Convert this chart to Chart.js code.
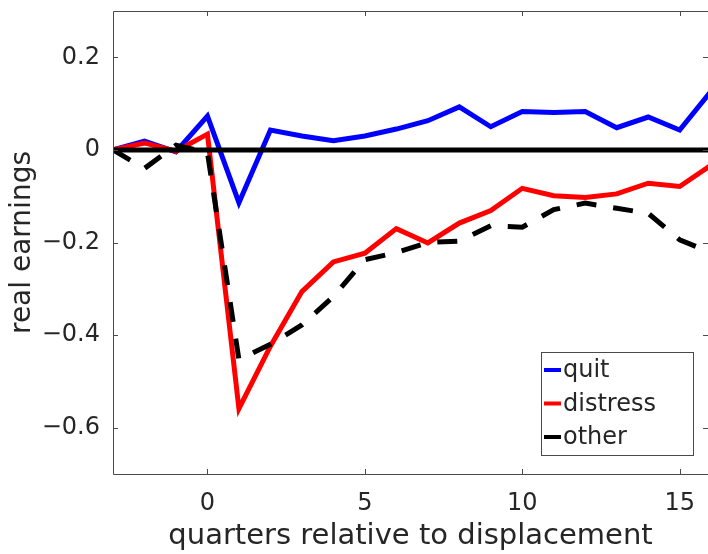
<!DOCTYPE html>
<html>
<head>
<meta charset="utf-8">
<script src="https://cdn.jsdelivr.net/npm/chart.js@4"></script>
<style>
	html, body { margin: 0; padding: 0; background: #fff; overflow: hidden; }
</style>
</head>
<body>
<canvas id="myChart" width="708" height="554"></canvas>
<script>
const quarters = [-3, -2, -1, 0, 1, 2, 3, 4, 5, 6, 7, 8, 9, 10, 11, 12, 13, 14, 15, 16];
const quit = [0, 0.019, -0.004, 0.073, -0.114, 0.043, 0.030, 0.020, 0.030, 0.045, 0.063, 0.093, 0.050, 0.083, 0.081, 0.083, 0.048, 0.071, 0.043, 0.127];
const distress = [0, 0.015, -0.003, 0.034, -0.559, -0.424, -0.306, -0.242, -0.223, -0.170, -0.201, -0.158, -0.131, -0.083, -0.099, -0.103, -0.095, -0.072, -0.079, -0.033];
const other = [0, -0.040, 0.010, -0.006, -0.453, -0.420, -0.378, -0.317, -0.237, -0.222, -0.200, -0.197, -0.164, -0.167, -0.129, -0.115, -0.126, -0.137, -0.194, -0.222];
const xTicks = [0, 5, 10, 15];
const yTicks = [-0.6, -0.4, -0.2, 0, 0.2];

const textColor = '#262626';
const axisColor = '#4a4a4a';
const fontFamily = "'DejaVu Sans'";

const toPoints = (vals) => quarters.map((q, i) => ({ x: q, y: vals[i] }));

// box round the plot with inward ticks on all four sides
const axisBox = {
	id: 'axisBox',
	afterDraw(chart) {
		const { ctx, chartArea: a, scales } = chart;
		const len = 5;
		ctx.save();
		ctx.strokeStyle = axisColor;
		ctx.lineWidth = 1;
		ctx.beginPath();
		ctx.rect(a.left + 0.5, a.top + 0.5, a.right - a.left, a.bottom - a.top);
		xTicks.forEach((t) => {
			const px = Math.round(scales.x.getPixelForValue(t)) + 0.5;
			ctx.moveTo(px, a.bottom); ctx.lineTo(px, a.bottom - len);
			ctx.moveTo(px, a.top); ctx.lineTo(px, a.top + len);
		});
		yTicks.forEach((t) => {
			const py = Math.round(scales.y.getPixelForValue(t)) + 0.5;
			ctx.moveTo(a.left, py); ctx.lineTo(a.left + len, py);
			ctx.moveTo(a.right, py); ctx.lineTo(a.right - len, py);
		});
		ctx.stroke();
		ctx.restore();
	},
};

// legend box inside the lower right of the plot
const boxLegend = {
	id: 'boxLegend',
	afterDatasetsDraw(chart) {
		const { ctx } = chart;
		const items = chart.data.datasets.filter((d) => d.label);
		const left = 541, top = 352, w = 152, h = 103, rowH = 33.5;
		ctx.save();
		ctx.fillStyle = '#fff';
		ctx.fillRect(left, top, w, h);
		ctx.strokeStyle = axisColor;
		ctx.lineWidth = 1;
		ctx.strokeRect(left + 0.5, top + 0.5, w, h);
		ctx.font = '24px ' + fontFamily;
		ctx.textBaseline = 'middle';
		items.forEach((d, i) => {
			const y = top + 18 + i * rowH;
			ctx.strokeStyle = d.borderColor;
			ctx.lineWidth = 4;
			ctx.beginPath();
			ctx.moveTo(544, y); ctx.lineTo(561, y);
			ctx.stroke();
			ctx.fillStyle = textColor;
			ctx.fillText(d.label, 563, y + 1);
		});
		ctx.restore();
	},
};

Chart.defaults.font.family = fontFamily;
Chart.defaults.color = textColor;

const ctx = document.getElementById('myChart').getContext('2d');

new Chart(ctx, {
	type: 'line',
	data: {
		datasets: [
			{
				data: [{ x: quarters[0], y: 0 }, { x: quarters[quarters.length - 1], y: 0 }],
				borderColor: '#000',
				borderWidth: 5,
				order: 0,
			},
			{
				label: 'quit',
				data: toPoints(quit),
				borderColor: '#0000ff',
				borderWidth: 5,
				order: 3,
			},
			{
				label: 'distress',
				data: toPoints(distress),
				borderColor: '#ff0000',
				borderWidth: 5,
				order: 2,
			},
			{
				label: 'other',
				data: toPoints(other),
				borderColor: '#000',
				borderWidth: 5,
				borderDash: [20, 17],
				order: 1,
			},
		],
	},
	options: {
		responsive: false,
		animation: false,
		devicePixelRatio: 1,
		layout: { padding: { top: 11, right: 0, left: 0, bottom: 0 } },
		elements: {
			point: { radius: 0 },
			line: { tension: 0, fill: false, borderCapStyle: 'butt', borderJoinStyle: 'miter' },
		},
		plugins: {
			legend: { display: false },
			tooltip: { enabled: false },
		},
		scales: {
			x: {
				type: 'linear',
				min: -3,
				max: 15.9,
				grid: { display: false, drawTicks: false },
				border: { display: false },
				afterBuildTicks: (s) => { s.ticks = xTicks.map((v) => ({ value: v })); },
				afterFit: (s) => { s.height = 80; s.paddingLeft = 0; s.paddingRight = 0; },
				ticks: { font: { size: 24 }, padding: 15, maxRotation: 0 },
				title: {
					display: true,
					text: 'quarters relative to displacement',
					font: { size: 29 },
					padding: { top: 0, bottom: 0 },
				},
			},
			y: {
				min: -0.7,
				max: 0.3,
				grid: { display: false, drawTicks: false },
				border: { display: false },
				afterBuildTicks: (s) => { s.ticks = yTicks.map((v) => ({ value: v })); },
				afterFit: (s) => { s.width = 113; s.paddingTop = 0; s.paddingBottom = 0; },
				ticks: {
					font: { size: 24 },
					padding: 13,
					callback: (v) => (v === 0 ? '0' : (v < 0 ? '\u2212' : '') + Math.abs(v).toFixed(1)),
				},
				title: {
					display: true,
					text: 'real earnings',
					font: { size: 28 },
					padding: { top: 6, bottom: 0 },
				},
			},
		},
	},
	plugins: [axisBox, boxLegend],
});
</script>
</body>
</html>
